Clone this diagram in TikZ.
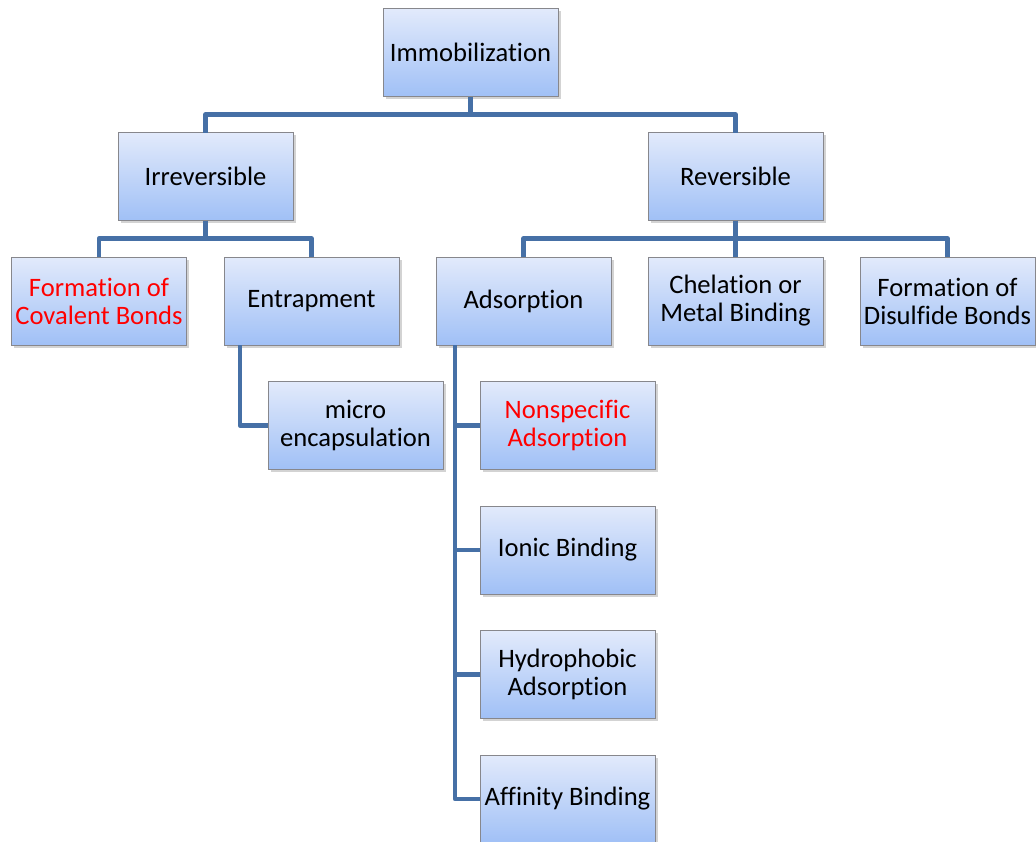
\documentclass[tikz,border=0pt]{standalone}
\usepackage{fontspec}
\setmainfont{Carlito}[Ligatures=NoCommon]
\usepackage{tikz}
\usetikzlibrary{shadows}
\usepackage{xcolor}
\definecolor{linkblue}{RGB}{70,112,166}
\definecolor{boxtop}{RGB}{226,234,251}
\definecolor{boxbot}{RGB}{160,192,246}
\definecolor{boxline}{RGB}{135,135,140}

\begin{document}
\begin{tikzpicture}[x=0.5pt, y=-0.5pt]
\tikzset{
  box/.style={draw=boxline, line width=0.5pt, top color=boxtop, bottom color=boxbot,
    minimum width=87.5pt, minimum height=44pt, inner sep=1pt, outer sep=0pt, align=center,
    font=\fontsize{13.3}{14}\selectfont,
    drop shadow={shadow xshift=1.3pt, shadow yshift=-1.3pt, opacity=0.35}},
  hot/.style={text=red},
  link/.style={draw=linkblue, line width=2.4pt, line join=round}
}
\useasboundingbox (0,0) rectangle (1036,841);
% boxes
\node[box] (imm) at (470.5,52.5) {Immobilization};
\node[box] (irr) at (205.5,176.5) {Irreversible};
\node[box] (rev) at (735.5,176.5) {Reversible};
\node[box, hot] (cov) at (99,301) {Formation of\\Covalent Bonds};
\node[box] (ent) at (311.5,301) {Entrapment};
\node[box] (ads) at (523.5,301) {Adsorption};
\node[box] (che) at (735.5,301) {Chelation or\\Metal Binding};
\node[box] (dis) at (947.5,301) {Formation of\\Disulfide Bonds};
\node[box] (mic) at (355.5,425.5) {micro\\encapsulation};
\node[box, hot] (non) at (567.5,425.5) {Nonspecific\\Adsorption};
\node[box] (ion) at (567.5,550) {Ionic Binding};
\node[box] (hyd) at (567.5,674.5) {Hydrophobic\\Adsorption};
\node[box] (aff) at (567.5,799) {Affinity Binding};
% connectors
\coordinate (entbar) at (240,345);
\coordinate (adsbar) at (455,345);
\draw[link] (imm.south) -- ++(0,18) -| (irr.north);
\draw[link] (imm.south) -- ++(0,18) -| (rev.north);
\draw[link] (irr.south) -- ++(0,18) -| (cov.north);
\draw[link] (irr.south) -- ++(0,18) -| (ent.north);
\draw[link] (rev.south) -- ++(0,18) -| (ads.north);
\draw[link] (rev.south) -- ++(0,18) -| (che.north);
\draw[link] (rev.south) -- ++(0,18) -| (dis.north);
\draw[link] (entbar) |- (mic.west);
\foreach \n in {non,ion,hyd,aff}
  \draw[link] (adsbar) |- (\n.west);
\end{tikzpicture}
\end{document}
